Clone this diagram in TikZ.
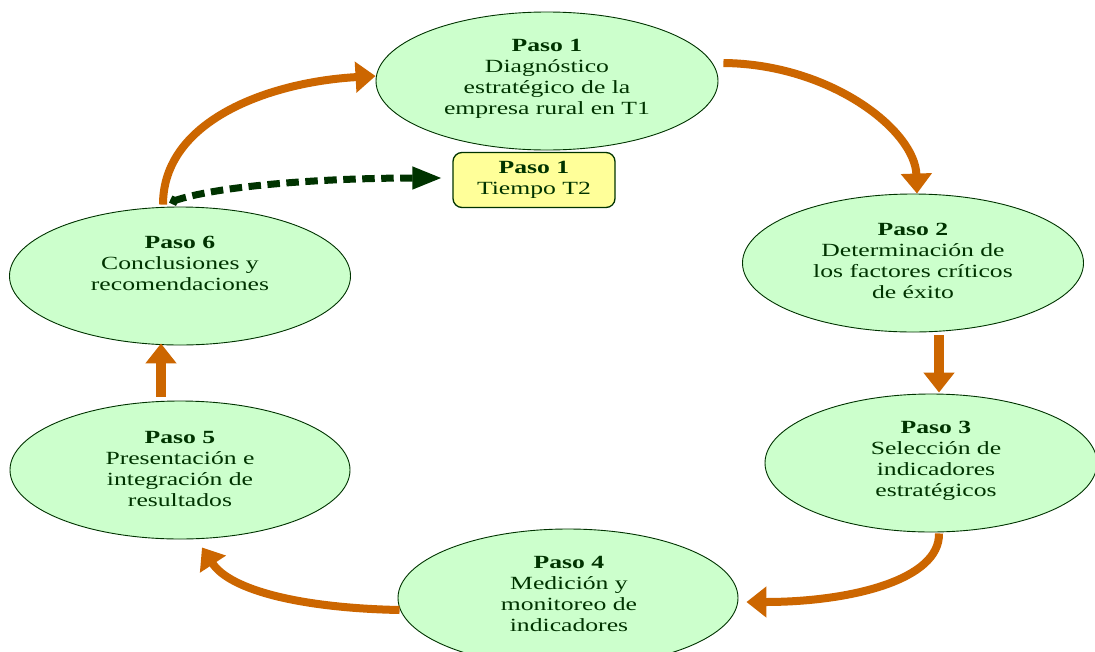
\documentclass[tikz,border=0pt]{standalone}
\usepackage{fontspec}
\setmainfont{Liberation Serif}[FakeStretch=1.38]
\usetikzlibrary{arrows.meta,shapes.geometric}
\definecolor{ellfill}{HTML}{CCFFCC}
\definecolor{dkgreen}{HTML}{003300}
\definecolor{orng}{HTML}{CC6600}
\definecolor{boxfill}{HTML}{FFFF99}
\begin{document}
\begin{tikzpicture}[x=1pt,y=-1pt,
  stepell/.style={ellipse,draw=dkgreen,line width=0.9pt,fill=ellfill,minimum height=138pt,inner sep=0pt},
  steptext/.style={text=dkgreen,align=center,inner sep=0pt,font=\fontsize{18.6}{21}\selectfont},
  flow/.style={draw=orng,line width=8pt,-{Triangle[width=30pt,length=20pt]}},
  flowstraight/.style={flow,line width=10.5pt},
  dotflow/.style={draw=dkgreen,line width=7pt,dash pattern=on 12.5pt off 6.5pt,
     {Diamond[length=11pt,width=11pt]}-{Triangle[width=21pt,length=30pt]}}
]
\useasboundingbox (0,0) rectangle (1095,651);
\fill[white] (0,0) rectangle (1095,651);

\node[stepell,minimum width=342pt] (p1) at (547,81) {};
\node[stepell,minimum width=341pt] (p2) at (913,263) {};
\node[stepell,minimum width=332pt] (p3) at (931,463) {};
\node[stepell,minimum width=340pt] (p4) at (568,598) {};
\node[stepell,minimum width=340pt] (p5) at (180,470) {};
\node[stepell,minimum width=341pt] (p6) at (180,276) {};

\node[steptext] (t1) at (547,78.5) {\textbf{Paso 1}\\Diagnóstico\\estratégico de la\\empresa rural en T1};
\node[steptext] (t2) at (913,260.5) {\textbf{Paso 2}\\Determinación de\\los factores críticos\\de éxito};
\node[steptext] (t3) at (936,461) {\textbf{Paso 3}\\Selección de\\indicadores\\estratégicos};
\node[steptext] (t4) at (569,594) {\textbf{Paso 4}\\Medición y\\monitoreo de\\indicadores};
\node[steptext] (t5) at (180,469) {\textbf{Paso 5}\\Presentación e\\integración de\\resultados};
\node[steptext] (t6) at (180,263) {\textbf{Paso 6}\\Conclusiones y\\recomendaciones};

\node[draw=dkgreen,line width=1.3pt,fill=boxfill,rounded corners=9pt,minimum width=162pt,minimum height=55pt,
      text=dkgreen,align=center,inner sep=0pt,font=\fontsize{18.6}{21}\selectfont] (tb) at (534,180)
      {\textbf{Paso 1}\\Tiempo T2};

\draw[flow] ([xshift=5pt,yshift=18pt]p1.east) .. controls (830,64) and (915,130) .. ([xshift=4pt]p2.north);
\draw[flowstraight] ([xshift=26pt,yshift=-3pt]p2.south) -- ([xshift=8pt,yshift=1pt]p3.north);
\draw[flow] ([xshift=8pt,yshift=-1pt]p3.south) .. controls (940,580) and (850,602) .. ([xshift=8pt,yshift=-4pt]p4.east);
\draw[flow] ([xshift=2pt,yshift=-12pt]p4.west) .. controls (300,608) and (230,590) .. ([xshift=22pt,yshift=-8pt]p5.south);
\draw[flowstraight] ([xshift=-19pt,yshift=4pt]p5.north) -- ([xshift=-19pt,yshift=2pt]p6.south);
\draw[flow] ([xshift=-17pt,yshift=2pt]p6.north) .. controls (163,120) and (270,82) .. ([yshift=5pt]p1.west);
\draw[dotflow] ([xshift=-11pt,yshift=4pt]p6.north) .. controls (220,185) and (330,178) .. ([xshift=-10pt,yshift=2pt]tb.west);
\end{tikzpicture}
\end{document}
